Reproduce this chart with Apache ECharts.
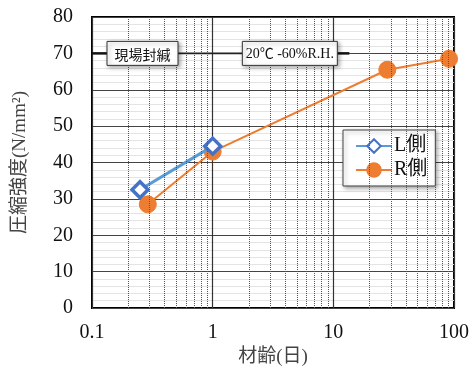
<!DOCTYPE html>
<html>
<head>
<meta charset="utf-8">
<script src="https://cdn.jsdelivr.net/npm/echarts@6/dist/echarts.min.js"></script>
<style>
  html, body { margin: 0; padding: 0; background: #fff; }
  #chart { width: 472px; height: 372px; }
</style>
</head>
<body>
<div id="chart"></div>
<script>
// Compressive strength vs. age (log scale)
const ageL = [0.25, 1];
const strengthL = [32.5, 44.5];
const ageR = [0.29, 1, 28, 91];
const strengthR = [28.5, 43, 65.5, 68.5];
const minorAges = [0.2, 0.3, 0.4, 0.5, 0.6, 0.7, 0.8, 0.9,
                   2, 3, 4, 5, 6, 7, 8, 9,
                   20, 30, 40, 50, 60, 70, 80, 90];
const seriesNames = ['L側', 'R側'];
const curingLabels = ['現場封緘', '20℃ -60%R.H.'];

const serif = "'Liberation Serif', 'Times New Roman', 'Noto Sans CJK JP', serif";

const chart = echarts.init(document.getElementById('chart'), null, { renderer: 'canvas' });

const option = {
  animation: false,
  backgroundColor: '#fff',
  grid: {
    left: 92, right: 17, top: 17, bottom: 64,
    show: true, borderColor: '#000', borderWidth: 2, backgroundColor: 'transparent'
  },
  xAxis: {
    type: 'log', logBase: 10, min: 0.1, max: 100,
    name: '材齢(日)', nameLocation: 'middle', nameGap: 37,
    nameTextStyle: { fontFamily: serif, fontSize: 19, color: '#444' },
    axisLine: { show: false },
    axisTick: { show: false },
    axisLabel: {
      margin: 15, fontFamily: serif, fontSize: 20, color: '#111',
      formatter: v => String(+v.toPrecision(3))
    },
    splitLine: { show: true, lineStyle: { color: '#333', width: 1.2 } }
  },
  yAxis: {
    type: 'value', min: 0, max: 80, interval: 10,
    name: '圧縮強度(N/mm²)', nameLocation: 'middle', nameGap: 62, nameRotate: 90,
    nameTextStyle: { fontFamily: serif, fontSize: 19, color: '#444' },
    axisLine: { show: false },
    axisTick: { show: false },
    axisLabel: { margin: 19, fontFamily: serif, fontSize: 20, color: '#111' },
    splitLine: { show: true, lineStyle: { color: '#444', width: 1.2 } },
    minorTick: { show: false, splitNumber: 5 },
    minorSplitLine: { show: true, lineStyle: { color: '#e4e4e4', width: 1 } }
  },
  legend: {
    data: seriesNames,
    orient: 'vertical',
    left: 343, top: 130,
    padding: [6, 8, 6, 12],
    itemGap: 4,
    itemWidth: 36, itemHeight: 17,
    backgroundColor: '#fff',
    borderColor: '#444', borderWidth: 1,
    shadowColor: 'rgba(0,0,0,0.35)', shadowBlur: 4, shadowOffsetX: 2, shadowOffsetY: 2,
    textStyle: { fontFamily: serif, fontSize: 20, color: '#111', padding: [0, 0, 0, -3] }
  },
  series: [
    {
      // log-scale minor grid lines (2–9 within each decade)
      name: 'grid', type: 'line', data: [], z: 1, silent: true,
      markLine: {
        silent: true, symbol: 'none', label: { show: false },
        lineStyle: { color: '#555', type: 'dotted', width: 1 },
        data: minorAges.map(v => ({ xAxis: v }))
      }
    },
    {
      name: seriesNames[0], type: 'line', z: 4,
      data: ageL.map((a, i) => [a, strengthL[i]]),
      symbol: 'diamond', symbolSize: 16,
      lineStyle: { color: '#5B9BD5', width: 3 },
      itemStyle: { color: '#fff', borderColor: '#4472C4', borderWidth: 3.5 }
    },
    {
      name: seriesNames[1], type: 'line', z: 3,
      data: ageR.map((a, i) => [a, strengthR[i]]),
      symbol: 'circle', symbolSize: 17,
      lineStyle: { color: '#ED7D31', width: 2 },
      itemStyle: { color: '#ED7D31', borderColor: '#ED7D31', borderWidth: 1 }
    }
  ]
};

chart.setOption(option);

// Curing-condition labels placed on the 70 N/mm² line
function px(age, strength) {
  return chart.convertToPixel({ xAxisIndex: 0, yAxisIndex: 0 }, [age, strength]);
}
const p0 = px(0.1, 70);
const p10 = px(10, 70);
const y70 = p0[1];
const box1 = { x: p0[0] + 15, w: 71 };
const box2 = { x: p10[0] - 91, w: 95 };
const boxH = 24;

function labelBox(b, text, font) {
  return {
    type: 'group',
    children: [
      {
        type: 'rect',
        shape: { x: b.x, y: y70 - boxH / 2, width: b.w, height: boxH },
        style: {
          fill: '#fff', stroke: '#333', lineWidth: 1,
          shadowColor: 'rgba(0,0,0,0.35)', shadowBlur: 4, shadowOffsetX: 2, shadowOffsetY: 2
        },
        z: 10
      },
      {
        type: 'text',
        style: {
          x: b.x + b.w / 2, y: y70 + 1, text: text,
          font: font, fill: '#111', align: 'center', verticalAlign: 'middle'
        },
        z: 11
      }
    ]
  };
}

chart.setOption({
  graphic: [
    { type: 'line', shape: { x1: p0[0], y1: y70, x2: box1.x, y2: y70 },
      style: { stroke: '#111', lineWidth: 2.5 }, z: 9 },
    { type: 'line', shape: { x1: box1.x + box1.w, y1: y70, x2: box2.x, y2: y70 },
      style: { stroke: '#222', lineWidth: 1.6 }, z: 9 },
    { type: 'line', shape: { x1: box2.x + box2.w, y1: y70, x2: box2.x + box2.w + 12, y2: y70 },
      style: { stroke: '#111', lineWidth: 2.5 }, z: 9 },
    labelBox(box1, curingLabels[0], "14px 'Noto Sans CJK JP', sans-serif"),
    labelBox(box2, curingLabels[1], "14px 'Liberation Serif', 'Noto Sans CJK JP', serif")
  ]
});
</script>
</body>
</html>
